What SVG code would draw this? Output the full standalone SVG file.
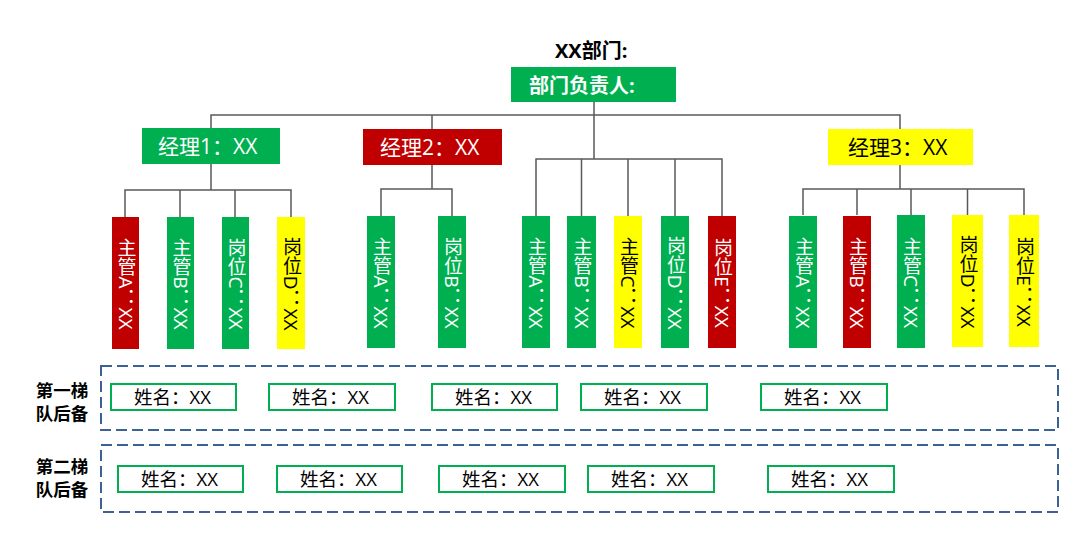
<svg xmlns="http://www.w3.org/2000/svg" width="1080" height="547" viewBox="0 0 1080 547">
<style>
text{font-family:"Open Sans","Noto Sans CJK SC","Microsoft YaHei",sans-serif;}
.g{fill:#00B050;}
.r{fill:#C00000;}
.y{fill:#FFFF00;}
.tw{fill:#FFFFFF;}
.tb{fill:#000000;}
.mgr{font-size:21px;}
.leaf{font-size:19px;text-anchor:middle;writing-mode:vertical-rl;}
.conn{fill:none;stroke:#595959;stroke-width:1.5;}
.dash{fill:none;stroke:#3D6096;stroke-width:2;stroke-dasharray:11 5;}
.name{fill:#FFFFFF;stroke:#00B050;stroke-width:2;}
.nt{font-size:18.5px;fill:#000;}
.lbl{font-size:17.5px;font-weight:bold;fill:#000;text-anchor:middle;}
</style>

<g id="connectors">
<path class="conn" d="M594 102V159"/>
<path class="conn" d="M211 128V115H900V129"/>
<path class="conn" d="M432 115V129"/>
<path class="conn" d="M211 164V190"/>
<path class="conn" d="M125 217V190H291V217M180 190V217M235 190V217"/>
<path class="conn" d="M432 165V189"/>
<path class="conn" d="M381 216V189H452V216"/>
<path class="conn" d="M536 216V159H722V216M581.5 159V216M628 159V216M675 159V216"/>
<path class="conn" d="M900 165V189"/>
<path class="conn" d="M803 215V189H1024V215M857 189V215M911 189V215M967.5 189V215"/>
</g>

<g id="title"><text x="555" y="58" font-size="20" font-weight="bold" fill="#000">XX部门:</text></g>

<g id="head">
<rect class="g" x="511" y="67" width="165" height="35"/>
<text x="529" y="93" font-size="20" font-weight="bold" fill="#fff">部门负责人:</text>
</g>

<g id="mgr1"><rect class="g" x="142" y="128" width="138" height="36"/><text class="mgr tw" x="158" y="154">经理1：XX</text></g>
<g id="mgr2"><rect class="r" x="363" y="129" width="139" height="36"/><text class="mgr tw" x="380" y="155">经理2：XX</text></g>
<g id="mgr3"><rect class="y" x="828" y="129" width="145" height="36"/><text class="mgr tb" x="848" y="155">经理3：XX</text></g>

<g id="m1a"><rect class="r" x="112" y="217" width="27" height="132"/><text class="leaf tw" x="125.5" y="284">主管A：XX</text></g>
<g id="m1b"><rect class="g" x="167" y="217" width="27" height="132"/><text class="leaf tw" x="180.5" y="284">主管B：XX</text></g>
<g id="m1c"><rect class="g" x="222" y="217" width="27" height="132"/><text class="leaf tw" x="235.5" y="284">岗位C：XX</text></g>
<g id="m1d"><rect class="y" x="277" y="217" width="28" height="132"/><text class="leaf tb" x="291" y="284">岗位D：XX</text></g>

<g id="m2a"><rect class="g" x="367" y="216" width="28" height="132"/><text class="leaf tw" x="381" y="283">主管A：XX</text></g>
<g id="m2b"><rect class="g" x="438" y="216" width="28" height="132"/><text class="leaf tw" x="452" y="283">岗位B：XX</text></g>

<g id="c_a"><rect class="g" x="522" y="216" width="28" height="132"/><text class="leaf tw" x="536" y="283">主管A：XX</text></g>
<g id="c_b"><rect class="g" x="567" y="216" width="29" height="132"/><text class="leaf tw" x="581.5" y="283">主管B：XX</text></g>
<g id="c_c"><rect class="y" x="614" y="216" width="28" height="132"/><text class="leaf tb" x="628" y="283">主管C：XX</text></g>
<g id="c_d"><rect class="g" x="661" y="216" width="28" height="132"/><text class="leaf tw" x="675" y="283">岗位D：XX</text></g>
<g id="c_e"><rect class="r" x="708" y="216" width="28" height="132"/><text class="leaf tw" x="722" y="283">岗位E：XX</text></g>

<g id="m3a"><rect class="g" x="789" y="216" width="28" height="132"/><text class="leaf tw" x="803" y="283">主管A：XX</text></g>
<g id="m3b"><rect class="r" x="843" y="216" width="28" height="132"/><text class="leaf tw" x="857" y="283">主管B：XX</text></g>
<g id="m3c"><rect class="g" x="897" y="215" width="28" height="133"/><text class="leaf tw" x="911" y="282.5">主管C：XX</text></g>
<g id="m3d"><rect class="y" x="952" y="215" width="31" height="132"/><text class="leaf tb" x="967.5" y="282">岗位D：XX</text></g>
<g id="m3e"><rect class="y" x="1009" y="215" width="30" height="132"/><text class="leaf tb" x="1024" y="282">岗位E：XX</text></g>

<g id="tier1">
<rect class="dash" x="101" y="366" width="957" height="64"/>
<text class="lbl" x="62" y="397">第一梯</text>
<text class="lbl" x="62" y="420">队后备</text>
</g>
<g id="tier2">
<rect class="dash" x="101" y="445" width="957" height="67"/>
<text class="lbl" x="62" y="473">第二梯</text>
<text class="lbl" x="62" y="496">队后备</text>
</g>

<g id="n1_1"><rect class="name" x="111" y="384" width="125" height="26"/><text class="nt" x="134" y="404">姓名：XX</text></g>
<g id="n1_2"><rect class="name" x="269" y="384" width="126" height="26"/><text class="nt" x="292" y="404">姓名：XX</text></g>
<g id="n1_3"><rect class="name" x="432" y="384" width="125" height="26"/><text class="nt" x="455" y="404">姓名：XX</text></g>
<g id="n1_4"><rect class="name" x="581" y="384" width="126" height="26"/><text class="nt" x="604" y="404">姓名：XX</text></g>
<g id="n1_5"><rect class="name" x="761" y="384" width="126" height="26"/><text class="nt" x="784" y="404">姓名：XX</text></g>

<g id="n2_1"><rect class="name" x="118" y="466" width="125" height="26"/><text class="nt" x="141" y="486">姓名：XX</text></g>
<g id="n2_2"><rect class="name" x="277" y="466" width="125" height="26"/><text class="nt" x="300" y="486">姓名：XX</text></g>
<g id="n2_3"><rect class="name" x="439" y="466" width="126" height="26"/><text class="nt" x="462" y="486">姓名：XX</text></g>
<g id="n2_4"><rect class="name" x="588" y="466" width="126" height="26"/><text class="nt" x="611" y="486">姓名：XX</text></g>
<g id="n2_5"><rect class="name" x="768" y="466" width="126" height="26"/><text class="nt" x="791" y="486">姓名：XX</text></g>
</svg>
